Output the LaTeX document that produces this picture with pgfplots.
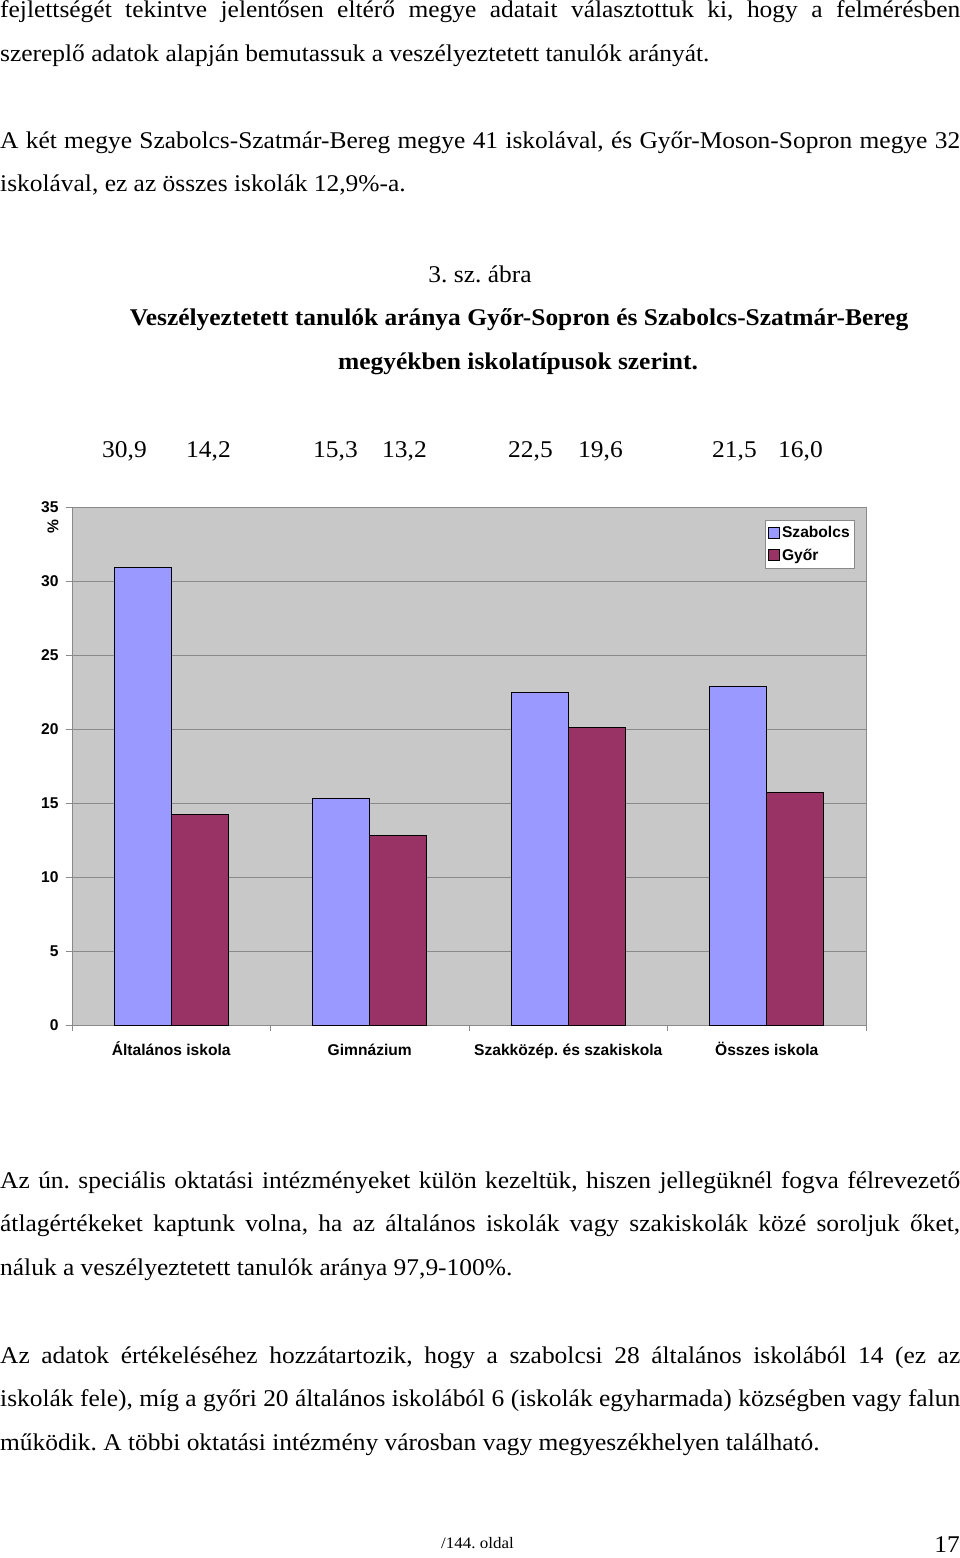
\documentclass[border=0pt]{standalone}
\usepackage{fontspec}
\setmainfont{Liberation Serif}[FakeStretch=1.06]
\newfontfamily\arial{Liberation Sans}
\usepackage{pgfplots}
\pgfplotsset{compat=1.18}
\definecolor{szab}{HTML}{9999FF}
\definecolor{gyor}{HTML}{993366}
\definecolor{plotbg}{HTML}{C8C8C8}
\definecolor{gridc}{HTML}{8A8A8A}
\newcommand\body{\fontsize{24}{30}\selectfont}
\newcommand\chartfont{\arial\bfseries\fontsize{15.6}{18}\selectfont}
\newcommand\J[1]{\makebox[960pt][s]{#1}}
\frenchspacing
\begin{document}
\begin{tikzpicture}
\useasboundingbox (0pt,0pt) rectangle (960pt,-1558pt);
\begin{scope}[every node/.style={inner sep=0pt, anchor=base west, font=\body}]
\node at (0pt,-17.5pt) {\J{fejlettségét tekintve jelentősen eltérő megye adatait választottuk ki, hogy a felmérésben}};
\node at (0pt,-61pt) {szereplő adatok alapján bemutassuk a veszélyeztetett tanulók arányát.};
\node at (0pt,-148pt) {\J{A két megye Szabolcs-Szatmár-Bereg megye 41 iskolával, és Győr-Moson-Sopron megye 32}};
\node at (0pt,-191.5pt) {iskolával, ez az összes iskolák 12,9\%-a.};
\node[anchor=base] at (480pt,-282pt) {3. sz. ábra};
\node[anchor=base] at (519pt,-325.5pt) {\bfseries Veszélyeztetett tanulók aránya Győr-Sopron és Szabolcs-Szatmár-Bereg};
\node[anchor=base] at (518pt,-369pt) {\bfseries megyékben iskolatípusok szerint.};
\node at (102pt,-457pt) {30,9};
\node at (186pt,-457pt) {14,2};
\node at (313pt,-457pt) {15,3};
\node at (382pt,-457pt) {13,2};
\node at (508pt,-457pt) {22,5};
\node at (578pt,-457pt) {19,6};
\node at (712pt,-457pt) {21,5};
\node at (778pt,-457pt) {16,0};
\node at (0pt,-1188pt) {\J{Az ún. speciális oktatási intézményeket külön kezeltük, hiszen jellegüknél fogva félrevezető}};
\node at (0pt,-1231.5pt) {\J{átlagértékeket kaptunk volna, ha az általános iskolák vagy szakiskolák közé soroljuk őket,}};
\node at (0pt,-1275pt) {náluk a veszélyeztetett tanulók aránya 97,9-100\%.};
\node at (0pt,-1363pt) {\J{Az adatok értékeléséhez hozzátartozik, hogy a szabolcsi 28 általános iskolából 14 (ez az}};
\node at (0pt,-1406.5pt) {\J{iskolák fele), míg a győri 20 általános iskolából 6 (iskolák egyharmada) községben vagy falun}};
\node at (0pt,-1450pt) {működik. A többi oktatási intézmény városban vagy megyeszékhelyen található.};
\node[font=\fontsize{16}{18}\selectfont] at (441pt,-1548pt) {/144. oldal};
\node[anchor=base east] at (960pt,-1552pt) {17};
\node[anchor=center, rotate=90, font=\chartfont] at (53pt,-527pt) {\%};
\end{scope}
\begin{axis}[
  at={(72pt,-1025pt)}, anchor=south west,
  width=794pt, height=518pt, scale only axis,
  xmin=-0.5, xmax=3.5, ymin=0, ymax=35,
  ybar=0pt, bar width=57pt,
  axis background/.style={fill=plotbg},
  axis line style={gridc},
  ymajorgrids, grid style={gridc, line width=0.8pt},
  ytick={0,5,...,35},
  /pgf/number format/assume math mode=true,
  ticklabel style={font=\chartfont},
  yticklabel style={xshift=-4pt},
  tick align=outside, ytick pos=left, xtick pos=bottom,
  major tick length=6pt, minor tick length=6pt,
  tick style={gridc, line width=0.8pt},
  xtick={0,1,2,3},
  xticklabels={Általános iskola, Gimnázium, Szakközép. és szakiskola, Összes iskola},
  major x tick style={draw=none},
  minor xtick={-0.5,0.5,1.5,2.5,3.5},
  xticklabel style={anchor=base, yshift=-24pt},
  legend style={at={(rel axis cs:0.986,0.975)}, anchor=north east, draw=gridc, fill=white,
    font=\chartfont, inner xsep=3pt, inner ysep=4pt, row sep=6pt, cells={anchor=west}},
  legend image code/.code={\draw[#1,draw=black,line width=0.8pt] (0pt,-5.5pt) rectangle (11pt,5.5pt);},
]
\addplot[fill=szab, draw=black, line width=0.8pt] coordinates {(0,30.9) (1,15.3) (2,22.5) (3,22.9)};
\addplot[fill=gyor, draw=black, line width=0.8pt] coordinates {(0,14.2) (1,12.8) (2,20.1) (3,15.7)};
\legend{Szabolcs, Győr}
\end{axis}
\end{tikzpicture}
\end{document}
